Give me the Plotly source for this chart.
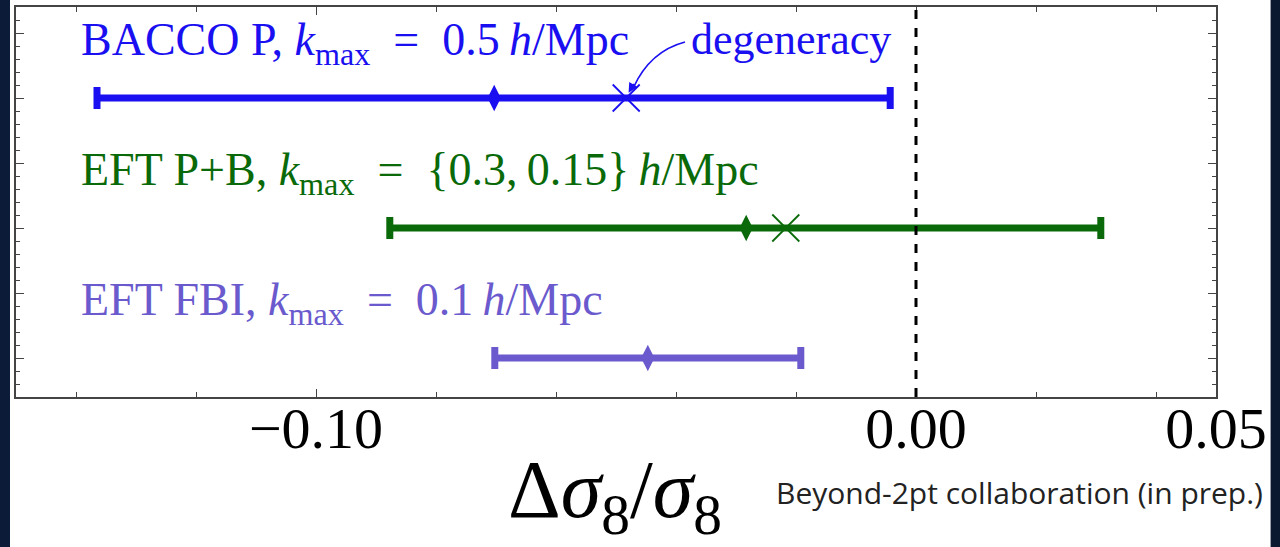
import plotly.graph_objects as go

# ---- data ----
labels = [
    "BACCO P, <i>k</i><sub>max</sub>\u2002=\u20020.5\u2009<i>h</i>/Mpc",
    "EFT P+B, <i>k</i><sub>max</sub>\u2002=\u2002{0.3,\u20090.15}\u2009<i>h</i>/Mpc",
    "EFT FBI, <i>k</i><sub>max</sub>\u2002=\u20020.1\u2009<i>h</i>/Mpc",
]
ypos = [2, 1, 0]
centers = [-0.0703, -0.0283, -0.0447]
lows = [-0.1365, -0.0877, -0.0702]
highs = [-0.0043, 0.0308, -0.0192]
degeneracy_x = [-0.0483, -0.0217, None]
colors = ["#1a0ff0", "#0a6a0a", "#6a5acd"]

xtick_vals = [-0.10, 0.00, 0.05]
xtick_text = ["\u22120.10", "0.00", "0.05"]

fig = go.Figure()

for lab, y, c, lo, hi, col, dx in zip(labels, ypos, centers, lows, highs, colors, degeneracy_x):
    fig.add_trace(go.Scatter(
        x=[c], y=[y], mode="markers",
        marker=dict(symbol="diamond-tall", size=19, color=col),
        error_x=dict(type="data", symmetric=False, array=[hi - c], arrayminus=[c - lo],
                     color=col, thickness=7, width=11),
        showlegend=False, hoverinfo="skip",
    ))
    if dx is not None:
        fig.add_trace(go.Scatter(
            x=[dx], y=[y], mode="markers",
            marker=dict(symbol="x-thin-open", size=27, color=col, line=dict(color=col, width=1.8)),
            showlegend=False, hoverinfo="skip",
        ))
    fig.add_annotation(
        x=-0.1395, y=y + 0.42, xref="x", yref="y", text=lab, showarrow=False,
        xanchor="left", yanchor="middle",
        font=dict(family="Liberation Serif", size=46, color=col),
    )

# degeneracy label and curved arrow
bx, by = degeneracy_x[0], ypos[0]
fig.add_annotation(
    x=bx + 0.0105, y=by + 0.45, xref="x", yref="y", text="degeneracy", showarrow=False,
    xanchor="left", yanchor="middle",
    font=dict(family="Liberation Serif", size=44, color=colors[0]),
)
fig.add_shape(
    type="path", xref="x", yref="y",
    path=f"M {bx + 0.0098} {by + 0.43} Q {bx + 0.0040} {by + 0.36} {bx + 0.0012} {by + 0.08}",
    line=dict(color=colors[0], width=1.6),
)
fig.add_annotation(
    x=bx + 0.0004, y=by + 0.04, ax=bx + 0.0014, ay=by + 0.12,
    xref="x", yref="y", axref="x", ayref="y", text="", showarrow=True,
    arrowhead=2, arrowsize=1.2, arrowwidth=1.6, arrowcolor=colors[0],
)

# vertical dashed zero line
fig.add_shape(type="line", xref="x", yref="paper", x0=0, x1=0, y0=0, y1=1,
              line=dict(color="black", width=3, dash="dash"))

# dark side strips (slide background)
fig.add_shape(type="rect", xref="paper", yref="paper", x0=-0.0134, x1=-0.005, y0=-0.4, y1=1.02,
              fillcolor="#0c1c38", line=dict(width=0), layer="below")
fig.add_shape(type="rect", xref="paper", yref="paper", x0=1.0455, x1=1.06, y0=-0.4, y1=1.02,
              fillcolor="#0a1830", line=dict(width=0), layer="below")

# axis title and credit
fig.add_annotation(
    x=0.499, y=-0.250, xref="paper", yref="paper",
    text="\u0394<i>\u03c3</i><sub>8</sub>/<i>\u03c3</i><sub>8</sub>", showarrow=False,
    xanchor="center", yanchor="middle",
    font=dict(family="Liberation Serif", size=82, color="black"),
)
fig.add_annotation(
    x=1.041, y=-0.245, xref="paper", yref="paper",
    text="Beyond-2pt collaboration (in prep.)", showarrow=False,
    xanchor="right", yanchor="middle",
    font=dict(family="Open Sans", size=30, color="#222222"),
)

fig.update_xaxes(
    range=[-0.15, 0.05], tickvals=xtick_vals, ticktext=xtick_text,
    ticks="inside", ticklen=8, tickwidth=1.2, tickcolor="#444",
    minor=dict(dtick=0.02, tick0=0, ticks="inside", ticklen=5, tickwidth=1, tickcolor="#444"),
    showline=True, linecolor="#444", linewidth=1.5, mirror="allticks",
    showgrid=False, zeroline=False, ticklabelstandoff=-20,
    tickfont=dict(family="Liberation Serif", size=58, color="black"),
)
fig.update_yaxes(
    range=[-0.3, 2.7], tickvals=[0, 0.5, 1, 1.5, 2, 2.5], showticklabels=False,
    ticks="inside", ticklen=8, tickwidth=1.2, tickcolor="#444",
    minor=dict(dtick=0.1, tick0=0, ticks="inside", ticklen=4, tickwidth=1, tickcolor="#444"),
    showline=True, linecolor="#444", linewidth=1.5, mirror="allticks",
    showgrid=False, zeroline=False,
)

fig.update_layout(
    width=1280, height=547,
    margin=dict(l=16, r=64, t=5, b=150),
    paper_bgcolor="white", plot_bgcolor="white",
)

fig.write_html("out.html", config={"displayModeBar": False},
               post_script="document.body.style.margin='0';")
